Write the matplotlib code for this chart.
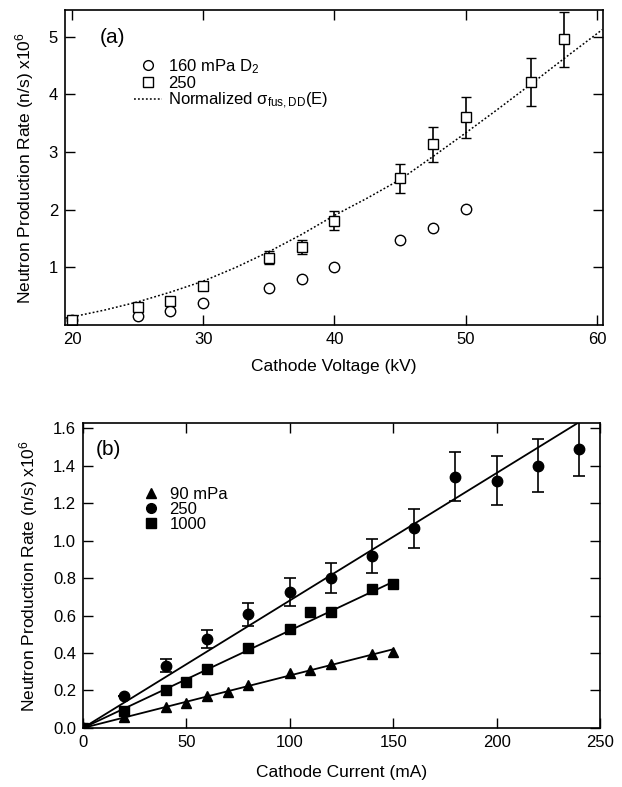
import matplotlib
matplotlib.use("Agg")
import matplotlib.pyplot as plt
from matplotlib.lines import Line2D
import numpy as np

plt.rcParams['font.family'] = ['Liberation Sans', 'DejaVu Sans']
plt.rcParams['mathtext.fontset'] = 'custom'
plt.rcParams['mathtext.rm'] = 'Liberation Sans'
plt.rcParams['mathtext.it'] = 'Liberation Sans:italic'

# ---------------- Panel (a) data ----------------
volt_160 = [20, 25, 27.5, 30, 35, 37.5, 40, 45, 47.5, 50]
rate_160 = [0.08, 0.165, 0.25, 0.38, 0.64, 0.79, 1.00, 1.48, 1.68, 2.01]

volt_250 = [20, 25, 27.5, 30, 35, 37.5, 40, 45, 47.5, 50, 55, 57.5]
rate_250 = [0.09, 0.32, 0.41, 0.67, 1.17, 1.35, 1.81, 2.54, 3.13, 3.60, 4.21, 4.95]
err_250 = [0.05, 0.06, 0.05, 0.07, 0.11, 0.12, 0.17, 0.25, 0.31, 0.36, 0.42, 0.48]

sigma_volt = [19.5, 20, 22.5, 25, 27.5, 30, 32.5, 35, 37.5, 40, 42.5, 45,
              47.5, 50, 52.5, 55, 57.5, 60, 60.4]
sigma_rate = [0.12, 0.14, 0.26, 0.40, 0.57, 0.76, 1.00, 1.27, 1.57, 1.90, 2.20,
              2.52, 2.92, 3.33, 3.75, 4.18, 4.62, 5.05, 5.12]

# ---------------- Panel (b) data ----------------
cur_90 = [0, 20, 40, 50, 60, 70, 80, 100, 110, 120, 140, 150]
rate_90 = [0.0, 0.057, 0.114, 0.132, 0.171, 0.194, 0.229, 0.292, 0.309, 0.341, 0.393, 0.407]

cur_250 = [0, 20, 40, 60, 80, 100, 120, 140, 160, 180, 200, 220, 240]
rate_250b = [0.0, 0.172, 0.332, 0.475, 0.606, 0.724, 0.80, 0.917, 1.065, 1.34, 1.32, 1.40, 1.49]
err_250b = [0.0, 0.0, 0.035, 0.05, 0.06, 0.075, 0.08, 0.09, 0.105, 0.13, 0.13, 0.14, 0.145]

cur_1000 = [0, 20, 40, 50, 60, 80, 100, 110, 120, 140, 150]
rate_1000 = [0.0, 0.092, 0.203, 0.247, 0.315, 0.428, 0.526, 0.617, 0.617, 0.741, 0.766]

# linear fit slopes (units of 1e6 n/s per mA) and fit ranges
fit_slopes = {'90': 0.0028, '250': 0.00680, '1000': 0.0052}
fit_ranges = {'90': (0, 150), '250': (0, 240), '1000': (0, 150)}

fig = plt.figure(figsize=(6.22, 7.87), dpi=100)

tick_kw = dict(direction='in', length=7, width=1.0, top=True, right=True,
               labelsize=12, pad=5)
label_fs = 12.5

# ---------- (a) ----------
axa = fig.add_axes([0.1045, 0.587, 0.865, 0.4003])
axa.plot(sigma_volt, sigma_rate, linestyle=(0, (1.2, 1.4)), color='black', lw=1.1)
axa.plot(volt_160, rate_160, 'o', mfc='white', mec='black', ms=7.5, mew=1.0,
         linestyle='none')
axa.errorbar(volt_250, rate_250, yerr=err_250, fmt='s', mfc='white', mec='black',
             ms=7.5, mew=1.0, ecolor='black', elinewidth=1.2, capsize=3.5,
             capthick=1.2)
axa.set_xlim(19.47, 60.46)
axa.set_ylim(0, 5.46)
axa.set_xticks([20, 30, 40, 50, 60])
axa.set_yticks([1, 2, 3, 4, 5])
axa.tick_params(**tick_kw)
for s in axa.spines.values():
    s.set_linewidth(1.2)
axa.set_xlabel('Cathode Voltage (kV)', fontsize=label_fs, labelpad=9)
axa.set_ylabel(r'Neutron Production Rate (n/s) x10$^6$', fontsize=label_fs, labelpad=9)
axa.text(0.065, 0.895, '(a)', transform=axa.transAxes, fontsize=15)
handles_a = [
    Line2D([], [], marker='o', mfc='white', mec='black', ms=7, mew=1.0, linestyle='none'),
    Line2D([], [], marker='s', mfc='white', mec='black', ms=7, mew=1.0, linestyle='none'),
    Line2D([], [], color='black', lw=1.1, linestyle=(0, (1.2, 1.4))),
]
labels_a = [r'160 mPa D$_2$', '250', r'Normalized σ$_{\mathregular{fus,DD}}$(E)']
axa.legend(handles_a, labels_a, loc='upper left',
           bbox_to_anchor=(0.115, 0.872), frameon=False, fontsize=12,
           handlelength=1.7, handletextpad=0.35, labelspacing=0.0,
           borderaxespad=0)

# ---------- (b) ----------
axb = fig.add_axes([0.1334, 0.0750, 0.8312, 0.3875])
for key in ['250', '1000', '90']:
    x0, x1 = fit_ranges[key]
    xs = np.array([x0, x1])
    axb.plot(xs, fit_slopes[key] * xs, color='black', lw=1.3)
axb.plot(cur_90, rate_90, '^', color='black', ms=7.5, linestyle='none')
axb.errorbar(cur_250, rate_250b, yerr=err_250b, fmt='o', color='black', ms=7.5,
             ecolor='black', elinewidth=1.2, capsize=4, capthick=1.2)
axb.plot(cur_1000, rate_1000, 's', color='black', ms=7.5, linestyle='none')
axb.set_xlim(0, 250)
axb.set_ylim(0, 1.627)
axb.set_xticks([0, 50, 100, 150, 200, 250])
axb.set_yticks([0.0, 0.2, 0.4, 0.6, 0.8, 1.0, 1.2, 1.4, 1.6])
axb.set_yticklabels(['0.0', '0.2', '0.4', '0.6', '0.8', '1.0', '1.2', '1.4', '1.6'])
axb.tick_params(**tick_kw)
for s in axb.spines.values():
    s.set_linewidth(1.2)
axb.set_xlabel('Cathode Current (mA)', fontsize=label_fs, labelpad=11)
axb.set_ylabel(r'Neutron Production Rate (n/s) x10$^6$', fontsize=label_fs, labelpad=9)
axb.text(0.025, 0.895, '(b)', transform=axb.transAxes, fontsize=15)
handles_b = [
    Line2D([], [], marker='^', color='black', ms=7, linestyle='none'),
    Line2D([], [], marker='o', color='black', ms=7, linestyle='none'),
    Line2D([], [], marker='s', color='black', ms=6.5, linestyle='none'),
]
labels_b = ['90 mPa', '250', '1000']
axb.legend(handles_b, labels_b, loc='upper left', bbox_to_anchor=(0.103, 0.812),
           frameon=False, fontsize=12, handlelength=1.0, handletextpad=0.6,
           labelspacing=0.0, borderaxespad=0)

fig.savefig('out.png', dpi=100)
